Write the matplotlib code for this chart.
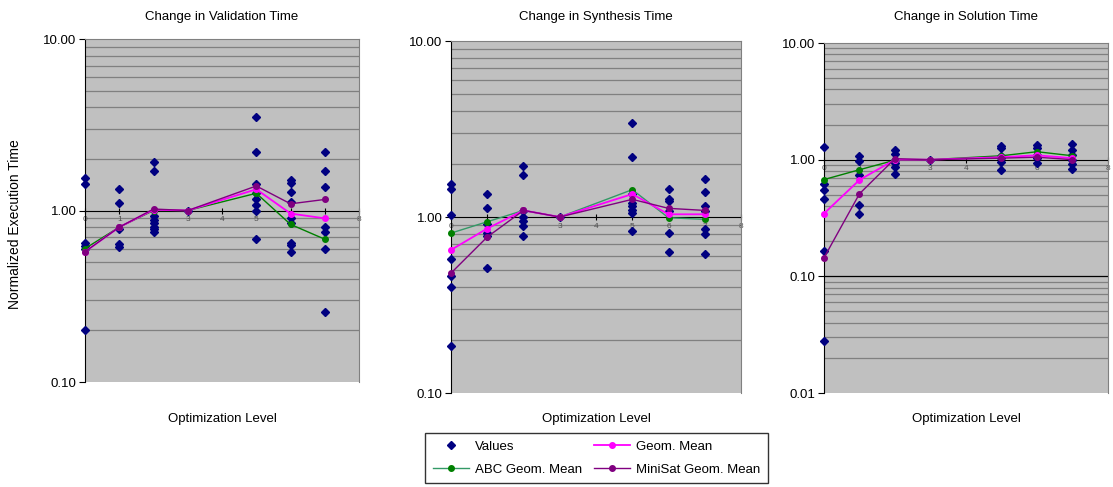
import numpy as np
import matplotlib
matplotlib.use("Agg")
import matplotlib.pyplot as plt
from matplotlib.ticker import FixedLocator, FuncFormatter, NullLocator

plt.rcParams["font.family"] = ["Liberation Sans", "DejaVu Sans"]

levels = [0, 1, 2, 3, 5, 6, 7]

# raw values per optimization level, one dict per panel
validation_values = {
    0: [1.54, 1.43, 0.647, 0.625, 0.60, 0.202],
    1: [1.33, 1.10, 0.78, 0.636, 0.614],
    2: [1.93, 1.70, 0.935, 0.875, 0.84, 0.80, 0.775, 0.747],
    3: [1.0],
    5: [3.5, 2.2, 1.43, 1.27, 1.17, 1.08, 1.0, 0.68],
    6: [1.51, 1.44, 1.29, 1.12, 0.90, 0.84, 0.65, 0.63, 0.575],
    7: [2.2, 1.70, 1.375, 0.80, 0.747, 0.60, 0.257],
}
validation_geom = [0.575, 0.80, 1.01, 1.0, 1.33, 0.96, 0.90]
validation_abc = [0.60, 0.80, 1.0, 1.0, 1.26, 0.83, 0.68]
validation_minisat = [0.575, 0.80, 1.02, 1.0, 1.39, 1.094, 1.16]

synthesis_values = {
    0: [1.55, 1.44, 1.03, 0.58, 0.46, 0.40, 0.185],
    1: [1.35, 1.12, 0.916, 0.81, 0.785, 0.51],
    2: [1.95, 1.73, 1.08, 1.0, 0.95, 0.89, 0.78],
    3: [1.0],
    5: [3.43, 2.19, 1.35, 1.2, 1.15, 1.1, 1.05, 0.83],
    6: [1.44, 1.26, 1.23, 1.08, 0.81, 0.63],
    7: [1.64, 1.39, 1.155, 1.08, 0.86, 0.80, 0.62],
}
synthesis_geom = [0.65, 0.86, 1.09, 1.0, 1.35, 1.036, 1.036]
synthesis_abc = [0.81, 0.94, 1.09, 1.0, 1.43, 0.99, 0.97]
synthesis_minisat = [0.48, 0.77, 1.09, 1.0, 1.26, 1.12, 1.09]

solution_values = {
    0: [1.28, 0.62, 0.55, 0.457, 0.166, 0.028],
    1: [1.07, 0.97, 0.735, 0.405, 0.34],
    2: [1.2, 1.125, 1.0, 0.93, 0.86, 0.755],
    3: [1.0],
    5: [1.32, 1.26, 1.08, 1.03, 0.955, 0.81],
    6: [1.34, 1.27, 1.10, 1.03, 0.93],
    7: [1.35, 1.22, 1.1, 1.0, 0.92, 0.83],
}
solution_geom = [0.345, 0.67, 1.0, 1.0, 1.05, 1.09, 1.03]
solution_abc = [0.675, 0.82, 0.99, 1.0, 1.08, 1.17, 1.08]
solution_minisat = [0.144, 0.51, 1.02, 1.0, 1.03, 1.05, 1.0]

titles = ["Change in Validation Time", "Change in Synthesis Time", "Change in Solution Time"]

NAVY = "#000080"
MAGENTA = "#FF00FF"
GREEN = "#008000"
PURPLE = "#800080"

fig = plt.figure(figsize=(11.13, 4.87), dpi=100)

rects = [
    [0.0764, 0.2156, 0.2462, 0.7043],
    [0.4052, 0.1930, 0.2606, 0.7228],
    [0.7403, 0.1930, 0.2552, 0.7187],
]
panels = [
    (validation_values, validation_geom, validation_abc, validation_minisat, 0.1),
    (synthesis_values, synthesis_geom, synthesis_abc, synthesis_minisat, 0.1),
    (solution_values, solution_geom, solution_abc, solution_minisat, 0.01),
]

handles = None
for i, (rect, (vals, geom, abc, minisat, ymin)) in enumerate(zip(rects, panels)):
    ax = fig.add_axes(rect)
    ax.set_facecolor("#C0C0C0")
    ax.set_yscale("log")
    ax.set_ylim(ymin, 10)
    ax.set_xlim(0, 8)

    # gridlines like excel: grey minors, black majors
    decades = np.arange(np.log10(ymin), 1)
    for d in decades:
        for m in range(2, 10):
            ax.axhline(m * 10 ** d, color="#808080", lw=0.9, zorder=1)
        if 10 ** d > ymin and not np.isclose(10 ** d, 1.0):
            ax.axhline(10 ** d, color="black", lw=0.9, zorder=1)

    xs = []
    ys = []
    for lv in levels:
        xs += [lv] * len(vals[lv])
        ys += vals[lv]
    abc_color = "#339966" if i == 1 else GREEN
    h_vals, = ax.plot(xs, ys, "D", color=NAVY, ms=3.8, ls="none", zorder=3,
                      clip_on=False, label="Values")
    h_abc, = ax.plot(levels, abc, "-o", color=abc_color, mfc=GREEN, mec=GREEN,
                     lw=1.0, ms=4, zorder=4, clip_on=False, label="ABC Geom. Mean")
    h_geom, = ax.plot(levels, geom, "-o", color=MAGENTA, lw=1.3, ms=4, zorder=5,
                      clip_on=False, label="Geom. Mean")
    h_min, = ax.plot(levels, minisat, "-o", color=PURPLE, lw=1.0, ms=4, zorder=6,
                     clip_on=False, label="MiniSat Geom. Mean")
    if i == 1:
        handles = [h_vals, h_abc, h_geom, h_min]

    for s in ["top", "right"]:
        ax.spines[s].set_color("#808080")
    ax.spines["left"].set_color("black")
    ax.spines["bottom"].set_position(("data", 1.0))
    ax.spines["bottom"].set_color("black")
    ax.spines["bottom"].set_zorder(2)

    ax.set_xticks(range(0, 9))
    ax.tick_params(axis="x", direction="inout", length=4, labelsize=6,
                   labelcolor="#505050", pad=2, color="black")
    majors = [10 ** d for d in np.arange(np.log10(ymin), 2)]
    ax.yaxis.set_major_locator(FixedLocator(majors))
    ax.yaxis.set_minor_locator(NullLocator())
    ax.yaxis.set_major_formatter(FuncFormatter(lambda v, p: "%.2f" % v))
    ax.tick_params(axis="y", direction="out", length=4, labelsize=9.5, pad=2)

    cx = rect[0] + rect[2] / 2
    fig.text(cx, 1 - 17 / 487, titles[i], ha="center", va="center", fontsize=9.5)
    fig.text(cx, 1 - 419 / 487, "Optimization Level", ha="center", va="center", fontsize=9.5)
    if i == 0:
        fig.text(15 / 1113, 1 - 224 / 487, "Normalized Execution Time", rotation=90,
                 ha="center", va="center", fontsize=10)

leg = fig.legend(handles, [h.get_label() for h in handles], ncol=2,
                 loc="center", bbox_to_anchor=(0.536, 1 - 458 / 487), fontsize=9.5,
                 frameon=True, fancybox=False, edgecolor="black", handlelength=2.7,
                 columnspacing=0.95, handletextpad=0.45, borderpad=0.6, labelspacing=0.8)
leg.get_frame().set_linewidth(1.0)

fig.savefig("out.png", dpi=100)
